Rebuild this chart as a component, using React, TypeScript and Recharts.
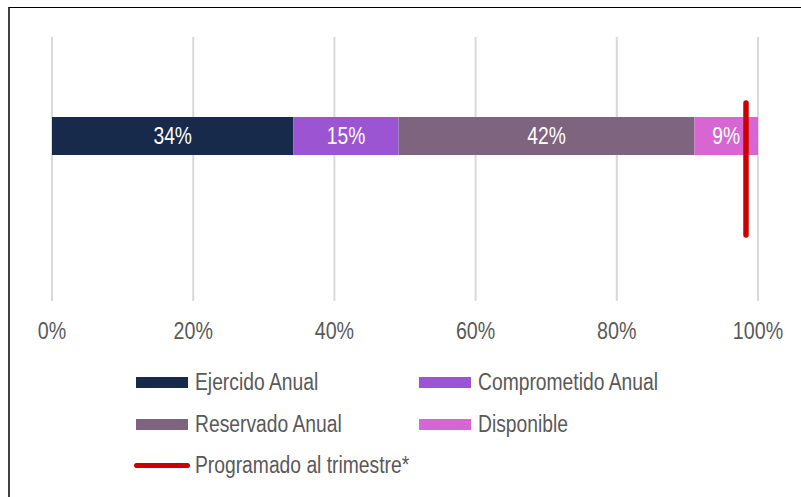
import { ComposedChart, Bar, Scatter, XAxis, YAxis, CartesianGrid, LabelList } from "recharts";

const FONT = '"Liberation Sans", Arial, sans-serif';
const NARROW = 0.82; // imita Arial Narrow

// datos del avance presupuestal
const categories = ["Presupuesto"];
const ejercido = [34.2];
const comprometido = [14.9];
const reservado = [41.9];
const disponible = [9.0];

// linea de lo programado al trimestre (x en %, y en fraccion de la banda)
const programadoX = [98.3, 98.3];
const programadoY = [0.25, 0.75];

const xTicks = [0, 20, 40, 60, 80, 100];

const chartData = categories.map((name, i) => ({
    name,
    ejercido: ejercido[i],
    comprometido: comprometido[i],
    reservado: reservado[i],
    disponible: disponible[i],
}));

const programado = programadoX.map((x, i) => ({ x, y: programadoY[i] }));

const series = [
    { key: "ejercido", label: "Ejercido Anual", color: "#172a4b" },
    { key: "comprometido", label: "Comprometido Anual", color: "#9b55d3" },
    { key: "reservado", label: "Reservado Anual", color: "#7f6480" },
    { key: "disponible", label: "Disponible", color: "#d766d3" },
];
const lineColor = "#cc0000";

const NarrowTick = ({ x, y, payload }: any) => (
    <text
        transform={`translate(${x},${y}) scale(${NARROW},1)`}
        textAnchor="middle"
        dy="0.71em"
        fontSize={24}
        fill="#595959"
        fontFamily={FONT}
    >
        {`${payload.value}%`}
    </text>
);

const BarLabel = ({ x, y, width, height, value }: any) => (
    <text
        transform={`translate(${Number(x) + Number(width) / 2},${Number(y) + Number(height) / 2}) scale(${NARROW},1)`}
        textAnchor="middle"
        dominantBaseline="central"
        fontSize={23.5}
        fill="#fff"
        fontFamily={FONT}
    >
        {`${Math.round(Number(value))}%`}
    </text>
);

const LegendItem = ({ label, color, line }: { label: string; color: string; line?: boolean }) => (
    <div style={{ display: "flex", alignItems: "center", width: 283, height: 41.5 }}>
        {line ? (
            <div style={{ flexShrink: 0, width: 56, height: 5, background: color, borderRadius: 3, marginLeft: -2, marginRight: 5 }} />
        ) : (
            <div style={{ flexShrink: 0, width: 52, height: 11, background: color, marginRight: 7 }} />
        )}
        <span
            style={{
                display: "inline-block",
                fontSize: 23.5,
                color: "#595959",
                whiteSpace: "nowrap",
                transform: `scaleX(${NARROW})`,
                transformOrigin: "left center",
            }}
        >
            {label}
        </span>
    </div>
);

const App = () => {
    return (
        <div style={{ position: "absolute", left: 0, top: 0, width: 801, height: 497, background: "#fff", fontFamily: FONT }}>
            <div style={{ position: "absolute", left: 8, top: 7, right: 0, bottom: 0, borderTop: "1px solid #000", borderLeft: "2px solid #404040" }} />
            <ComposedChart
                width={801}
                height={497}
                layout="vertical"
                data={chartData}
                margin={{ top: 37, right: 43, bottom: 156, left: 52 }}
                style={{ position: "absolute", left: 0, top: 0 }}
            >
                <CartesianGrid horizontal={false} stroke="#d9d9d9" strokeWidth={2} />
                <XAxis
                    type="number"
                    domain={[0, 100]}
                    ticks={xTicks}
                    axisLine={false}
                    tickLine={false}
                    tickSize={0}
                    tickMargin={21}
                    height={40}
                    interval={0}
                    tick={<NarrowTick />}
                />
                <XAxis xAxisId="r" type="number" dataKey="x" domain={[0, 100]} hide />
                <YAxis type="category" dataKey="name" hide padding={{ top: 0, bottom: 66 }} />
                <YAxis yAxisId="r" type="number" dataKey="y" domain={[0, 1]} hide />
                {series.map((s) => (
                    <Bar key={s.key} dataKey={s.key} stackId="a" fill={s.color} barSize={38} isAnimationActive={false}>
                        <LabelList dataKey={s.key} content={<BarLabel />} />
                    </Bar>
                ))}
                <Scatter
                    data={programado}
                    xAxisId="r"
                    yAxisId="r"
                    fill={lineColor}
                    line={{ stroke: lineColor, strokeWidth: 5.5, strokeLinecap: "round" }}
                    shape={() => <g />}
                    isAnimationActive={false}
                />
            </ComposedChart>
            <div style={{ position: "absolute", left: 136, top: 361.75, width: 566 }}>
                <div style={{ display: "flex" }}>
                    <LegendItem label={series[0].label} color={series[0].color} />
                    <LegendItem label={series[1].label} color={series[1].color} />
                </div>
                <div style={{ display: "flex" }}>
                    <LegendItem label={series[2].label} color={series[2].color} />
                    <LegendItem label={series[3].label} color={series[3].color} />
                </div>
                <div style={{ display: "flex" }}>
                    <LegendItem label="Programado al trimestre*" color={lineColor} line />
                </div>
            </div>
        </div>
    );
};

export default App;
